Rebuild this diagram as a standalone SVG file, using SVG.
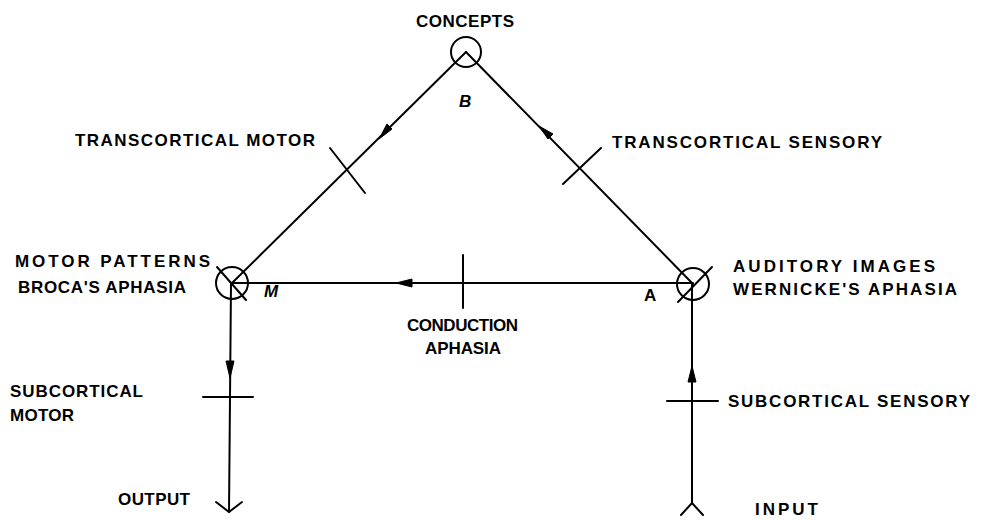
<svg xmlns="http://www.w3.org/2000/svg" width="982" height="520" viewBox="0 0 982 520">
<style>
.ln{stroke:#000;stroke-width:2;fill:none;stroke-linecap:round}
.ah{fill:#000;stroke:#000;stroke-width:1}
text{font-family:"Liberation Sans",Arial,sans-serif;font-weight:bold;font-size:17px;fill:#000}
.it{font-style:italic}
</style>
<rect width="982" height="520" fill="#fff"/>
<g id="connectors">
<line class="ln" x1="466" y1="52" x2="232" y2="283"/>
<line class="ln" x1="466" y1="52" x2="693" y2="284"/>
<line class="ln" x1="693" y1="283" x2="232" y2="283"/>
<line class="ln" x1="231" y1="283" x2="229" y2="512"/>
<line class="ln" x1="692" y1="284" x2="692" y2="503"/>
<polyline class="ln" points="216,502 229,512 242,502"/>
<polyline class="ln" points="681,515 692,503 703,515"/>
<line class="ln" x1="330" y1="148" x2="365" y2="193"/>
<line class="ln" x1="563" y1="184" x2="601" y2="148"/>
<line class="ln" x1="463" y1="255" x2="463" y2="308"/>
<line class="ln" x1="203" y1="397" x2="253" y2="397"/>
<line class="ln" x1="667" y1="401" x2="718" y2="401"/>
<polygon class="ah" points="379,139 387,124 392,129"/>
<polygon class="ah" points="539,126 553,134 548,139"/>
<polygon class="ah" points="396,283 412,279 412,287"/>
<polygon class="ah" points="230,378 226,361 234,361"/>
<polygon class="ah" points="692,366 688,382 696,382"/>
</g>
<g id="concepts">
<circle class="ln" cx="466" cy="52" r="15"/>
<text x="416" y="27" textLength="98" lengthAdjust="spacing">CONCEPTS</text>
<text class="it" x="459" y="107" font-size="14">B</text>
</g>
<g id="motor">
<circle class="ln" cx="232" cy="283" r="16"/>
<line class="ln" x1="217" y1="267" x2="246" y2="300"/>
<text x="15" y="267" textLength="195" lengthAdjust="spacing">MOTOR PATTERNS</text>
<text x="18" y="293" textLength="168" lengthAdjust="spacing">BROCA'S APHASIA</text>
<text class="it" x="264" y="297" font-size="15">M</text>
</g>
<g id="auditory">
<circle class="ln" cx="693" cy="284" r="16"/>
<line class="ln" x1="712" y1="267" x2="678" y2="302"/>
<text x="733" y="272" textLength="202" lengthAdjust="spacing">AUDITORY IMAGES</text>
<text x="733" y="295" textLength="224" lengthAdjust="spacing">WERNICKE'S APHASIA</text>
<text x="644" y="301" font-size="15">A</text>
</g>
<g id="transcortical-motor">
<text x="75" y="146" textLength="240" lengthAdjust="spacing">TRANSCORTICAL MOTOR</text>
</g>
<g id="transcortical-sensory">
<text x="612" y="148" textLength="270" lengthAdjust="spacing">TRANSCORTICAL SENSORY</text>
</g>
<g id="conduction">
<text x="407" y="331" textLength="111" lengthAdjust="spacing">CONDUCTION</text>
<text x="425" y="354" textLength="76" lengthAdjust="spacing">APHASIA</text>
</g>
<g id="subcortical-motor">
<text x="10" y="397" textLength="133" lengthAdjust="spacing">SUBCORTICAL</text>
<text x="10" y="421" textLength="64" lengthAdjust="spacing">MOTOR</text>
</g>
<g id="subcortical-sensory">
<text x="728" y="407" textLength="242" lengthAdjust="spacing">SUBCORTICAL SENSORY</text>
</g>
<g id="output">
<text x="118" y="505" textLength="72" lengthAdjust="spacing">OUTPUT</text>
</g>
<g id="input">
<text x="755" y="515" textLength="63" lengthAdjust="spacing">INPUT</text>
</g>
</svg>
